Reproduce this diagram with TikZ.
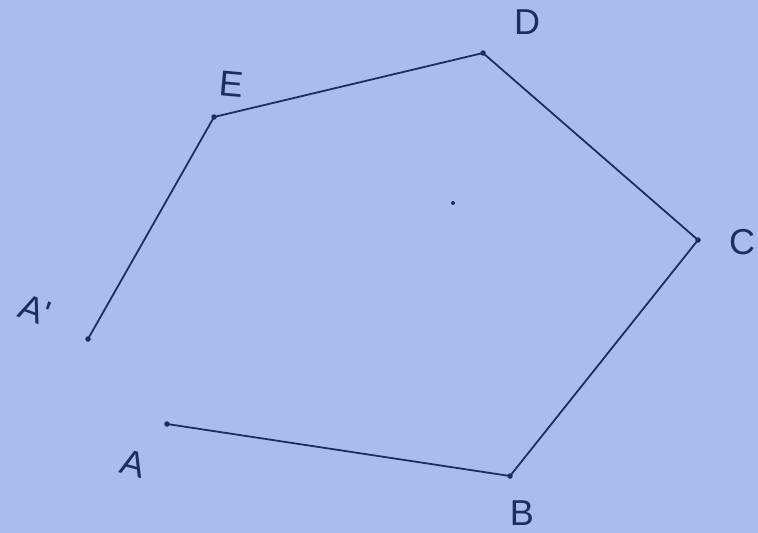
\documentclass[tikz,border=0pt]{standalone}
\usepackage{fontspec}
\setmainfont{Liberation Sans}
\definecolor{paper}{HTML}{A8BCEE}
\definecolor{ink}{HTML}{1E2C66}
\begin{document}
\begin{tikzpicture}[x=1pt,y=-1pt,
  edge/.style={draw=ink,line width=1.8pt,line cap=round},
  vdot/.style={circle,fill=ink,inner sep=0pt,minimum size=5.5pt},
  lbl/.style={text=ink,font=\fontsize{36}{36}\selectfont,inner sep=0pt}]
\fill[paper] (0,0) rectangle (758,533);
\useasboundingbox (0,0) rectangle (758,533);
\coordinate (pA) at (167,424);
\coordinate (pB) at (510,476);
\coordinate (pC) at (698,240);
\coordinate (pD) at (483,53);
\coordinate (pE) at (214,117);
\coordinate (pAp) at (88,339);
\node[vdot] (dA) at (pA) {};
\node[vdot] (dB) at (pB) {};
\node[vdot] (dC) at (pC) {};
\node[vdot] (dD) at (pD) {};
\node[vdot] (dE) at (pE) {};
\node[vdot] (dAp) at (pAp) {};
\draw[edge] (pA) -- (pB) -- (pC) -- (pD) -- (pE) -- (pAp);
\node[lbl,rotate=-15] (lA) at (133,464) {A};
\node[lbl] (lB) at (522,513) {B};
\node[lbl] (lC) at (742,242) {C};
\node[lbl] (lD) at (527,22) {D};
\node[lbl,rotate=-5] (lE) at (232,84) {E};
\node[lbl,rotate=-20] (lAp) at (35,310) {A\textquotesingle};
\node[circle,fill=ink,inner sep=0pt,minimum size=4pt] (spot) at (453,203) {};
\end{tikzpicture}
\end{document}
